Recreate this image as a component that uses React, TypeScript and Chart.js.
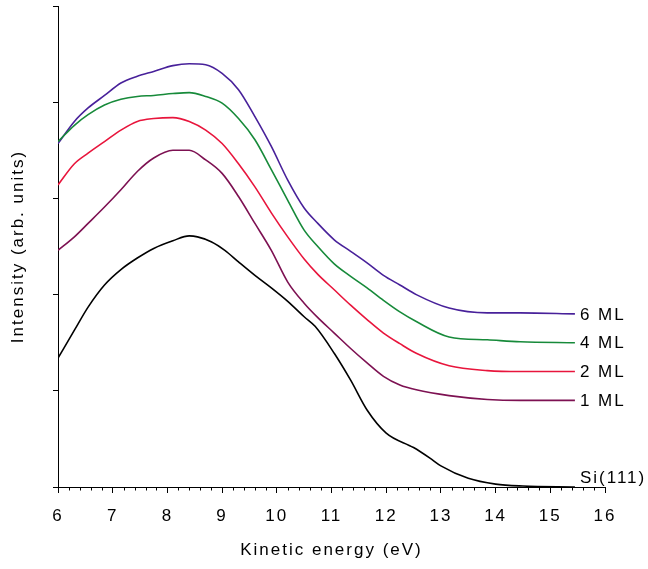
import { useEffect, useRef } from 'react';
import { Chart, registerables } from 'chart.js';

Chart.register(...registerables);

// Kinetic energy (eV) samples for the overlayer spectra
const energyML = [6.0, 6.3, 6.55, 6.85, 7.15, 7.45, 7.75, 8.1, 8.4, 8.7, 9.0, 9.3, 9.6, 9.9, 10.2, 10.5, 10.75, 11.05, 11.35, 11.65, 11.95, 12.25, 12.55, 13.15, 13.85, 14.45, 15.45];
const ml1 = [2.46, 2.60, 2.74, 2.91, 3.09, 3.28, 3.42, 3.50, 3.50, 3.40, 3.26, 3.02, 2.74, 2.46, 2.13, 1.91, 1.76, 1.60, 1.44, 1.29, 1.15, 1.06, 1.01, 0.95, 0.91, 0.90, 0.90];
const ml2 = [3.14, 3.36, 3.47, 3.59, 3.71, 3.80, 3.83, 3.84, 3.80, 3.71, 3.57, 3.36, 3.12, 2.85, 2.60, 2.37, 2.21, 2.05, 1.89, 1.74, 1.60, 1.49, 1.39, 1.26, 1.21, 1.20, 1.20];
const ml4 = [3.59, 3.76, 3.87, 3.97, 4.03, 4.06, 4.07, 4.09, 4.10, 4.06, 3.99, 3.83, 3.61, 3.30, 2.98, 2.67, 2.50, 2.32, 2.19, 2.07, 1.94, 1.82, 1.72, 1.56, 1.53, 1.51, 1.50];
const ml6 = [3.57, 3.80, 3.94, 4.07, 4.20, 4.27, 4.32, 4.38, 4.40, 4.39, 4.30, 4.13, 3.85, 3.54, 3.19, 2.90, 2.74, 2.57, 2.45, 2.33, 2.20, 2.10, 2.00, 1.86, 1.81, 1.81, 1.80];

// Clean Si(111) substrate
const energySi = [6.0, 6.3, 6.55, 6.85, 7.15, 7.45, 7.75, 8.1, 8.4, 8.55, 8.8, 9.05, 9.3, 9.6, 9.9, 10.2, 10.5, 10.7, 11.05, 11.35, 11.65, 12.0, 12.5, 12.8, 13.0, 13.5, 14.0, 14.5, 15.45];
const si = [1.34, 1.63, 1.87, 2.10, 2.26, 2.38, 2.48, 2.56, 2.61, 2.60, 2.55, 2.46, 2.34, 2.20, 2.07, 1.93, 1.77, 1.67, 1.39, 1.11, 0.80, 0.56, 0.41, 0.30, 0.22, 0.09, 0.03, 0.01, 0.0];

const seriesNames = ['Si(111)', '1 ML', '2 ML', '4 ML', '6 ML'];
const seriesColors = ['#000000', '#7D1152', '#E8153C', '#178A3A', '#48219A'];
const xTickMin = 6;
const xTickMax = 16;
const yTickMin = 0;
const yTickMax = 5;

const FONT = "'Liberation Sans', Arial, sans-serif";

export default function App() {
  const ref = useRef<HTMLCanvasElement | null>(null);

  useEffect(() => {
    const canvas = ref.current;
    if (!canvas) return;

    const toPts = (xs: number[], ys: number[]) => xs.map((x, i) => ({ x, y: ys[i] }));
    const seriesData = [
      toPts(energySi, si),
      toPts(energyML, ml1),
      toPts(energyML, ml2),
      toPts(energyML, ml4),
      toPts(energyML, ml6),
    ];

    const spacingPlugin = {
      id: 'spacing',
      beforeDraw(chart: any) {
        chart.ctx.letterSpacing = '2px';
      },
      afterDraw(chart: any) {
        chart.ctx.letterSpacing = '0px';
      },
    };

    const minorTicks = {
      id: 'minorTicks',
      afterDraw(chart: any) {
        const ctx = chart.ctx;
        const xs = chart.scales.x;
        const bottom = chart.chartArea.bottom;
        ctx.save();
        ctx.strokeStyle = '#000';
        ctx.lineWidth = 1;
        ctx.beginPath();
        for (let i = 0; i <= (xTickMax - xTickMin) * 5; i++) {
          if (i % 5 === 0) continue;
          const v = xTickMin + i * 0.2;
          const px = Math.round(xs.getPixelForValue(v)) + 0.5;
          ctx.moveTo(px, bottom);
          ctx.lineTo(px, bottom + 3.5);
        }
        ctx.stroke();
        ctx.restore();
      },
    };

    const endLabels = {
      id: 'endLabels',
      afterDatasetsDraw(chart: any) {
        const ctx = chart.ctx;
        ctx.save();
        ctx.letterSpacing = '2px';
        ctx.font = `17px ${FONT}`;
        ctx.fillStyle = '#000';
        ctx.textAlign = 'left';
        chart.data.datasets.forEach((ds: any, i: number) => {
          const meta = chart.getDatasetMeta(i);
          const last = meta.data[meta.data.length - 1];
          if (!last) return;
          const lx = last.x + 5;
          if (i === 0) {
            ctx.textBaseline = 'bottom';
            ctx.fillText(ds.label, lx, last.y);
          } else {
            ctx.textBaseline = 'middle';
            ctx.fillText(ds.label, lx, last.y + 1);
          }
        });
        ctx.restore();
      },
    };

    const chart = new Chart(canvas, {
      type: 'line',
      data: {
        datasets: seriesData.map((d, i) => ({
          label: seriesNames[i],
          data: d,
          borderColor: seriesColors[i],
          backgroundColor: seriesColors[i],
          borderWidth: 1.6,
          pointRadius: 0,
          cubicInterpolationMode: 'monotone',
          fill: false,
        })),
      },
      options: {
        animation: false,
        responsive: false,
        events: [],
        layout: { padding: { top: 6, left: 0, right: 43, bottom: 0 } },
        plugins: {
          legend: { display: false },
          tooltip: { enabled: false },
        },
        scales: {
          x: {
            type: 'linear',
            min: xTickMin,
            max: xTickMax,
            afterFit: (s: any) => { s.height = 82; },
            ticks: {
              stepSize: 1,
              padding: 13,
              color: '#000',
              font: { family: FONT, size: 17 },
              maxRotation: 0,
            },
            grid: {
              drawOnChartArea: false,
              drawTicks: true,
              tickLength: 6,
              tickColor: '#000',
              tickWidth: 1,
            },
            border: { display: true, color: '#000', width: 1 },
            title: {
              display: true,
              text: 'Kinetic energy (eV)',
              color: '#000',
              font: { family: FONT, size: 17 },
              padding: { top: 0, bottom: 8 },
            },
          },
          y: {
            type: 'linear',
            min: yTickMin,
            max: yTickMax,
            afterFit: (s: any) => { s.width = 58; },
            ticks: {
              stepSize: 1,
              display: false,
            },
            grid: {
              drawOnChartArea: false,
              drawTicks: true,
              tickLength: 5,
              tickColor: '#000',
              tickWidth: 1,
            },
            border: { display: true, color: '#000', width: 1 },
            title: {
              display: true,
              text: 'Intensity (arb. units)',
              color: '#000',
              font: { family: FONT, size: 17 },
              padding: { top: 8, bottom: 0 },
            },
          },
        },
      },
      plugins: [spacingPlugin, minorTicks, endLabels],
    } as any);

    return () => chart.destroy();
  }, []);

  return (
    <div style={{ position: 'fixed', left: 0, top: 0, width: 648, height: 569, background: '#fff' }}>
      <canvas ref={ref} width={648} height={569} style={{ width: 648, height: 569, display: 'block' }} />
    </div>
  );
}
